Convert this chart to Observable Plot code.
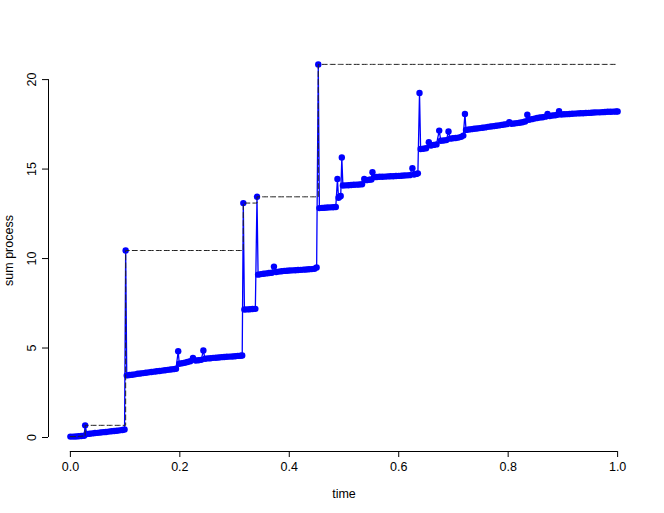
<!DOCTYPE html>
<html><head><meta charset="utf-8">
<script src="https://cdn.jsdelivr.net/npm/d3@7"></script>
<script src="https://cdn.jsdelivr.net/npm/@observablehq/plot@0.6"></script>
<style>html,body{margin:0;padding:0;background:#fff;}</style>
</head><body><div id="chart"></div>
<script>
const time = [
0.000,0.005,0.010,0.015,0.020,0.025,0.027,0.030,0.035,0.040,0.045,0.050,0.055,0.060,0.065,0.070,0.075,0.080,0.085,0.090,0.095,0.099,0.101,
0.103,0.108,0.113,0.118,0.123,0.128,0.133,0.138,0.143,0.148,0.153,0.158,0.163,0.168,0.173,0.178,0.183,0.188,0.193,0.197,
0.199,0.204,0.209,0.214,0.219,0.224,0.229,0.234,0.239,0.243,
0.246,0.251,0.256,0.261,0.266,0.271,0.276,0.281,0.286,0.291,0.296,0.301,0.306,0.311,0.314,0.316,
0.318,0.323,0.328,0.333,0.338,0.341,
0.343,0.348,0.353,0.358,0.363,0.368,0.372,0.376,0.381,0.386,0.391,0.396,0.401,0.406,0.411,0.416,0.421,0.426,0.431,0.436,0.441,0.446,0.450,0.453,
0.455,0.460,0.465,0.470,0.475,0.480,0.485,0.488,0.490,0.492,0.494,0.496,
0.498,0.503,0.508,0.513,0.518,0.523,0.528,0.533,0.537,0.541,0.546,0.550,0.552,
0.555,0.560,0.565,0.570,0.575,0.580,0.585,0.590,0.595,0.600,0.605,0.610,0.615,0.620,0.625,0.628,0.632,0.635,0.638,
0.640,0.645,0.650,0.655,0.659,0.664,0.669,0.674,0.677,0.682,0.687,0.691,0.694,0.699,0.704,0.709,0.714,0.718,0.721,
0.723,0.728,0.733,0.738,0.743,0.748,0.753,0.758,0.763,0.768,0.773,0.778,0.783,0.788,0.793,0.798,0.802,
0.806,0.811,0.816,0.821,0.826,0.831,0.835,0.838,0.843,0.848,0.853,0.858,0.863,0.868,0.872,
0.876,0.881,0.886,0.890,0.893,0.897,0.902,0.907,0.912,0.917,0.922,0.927,0.932,0.937,0.942,0.947,0.952,0.957,0.962,0.967,0.972,0.977,0.982,0.987,0.992,0.997,1.000
];
const sumProcess = [
0.05,0.05,0.06,0.07,0.08,0.10,0.68,0.20,0.21,0.23,0.25,0.26,0.28,0.30,0.31,0.33,0.35,0.36,0.38,0.40,0.42,0.45,10.45,
3.47,3.49,3.51,3.53,3.56,3.58,3.60,3.62,3.64,3.66,3.68,3.70,3.72,3.74,3.76,3.78,3.80,3.82,3.84,4.82,
4.12,4.15,4.18,4.22,4.26,4.45,4.30,4.32,4.34,4.86,
4.40,4.42,4.43,4.45,4.46,4.47,4.49,4.50,4.51,4.52,4.53,4.54,4.56,4.57,4.58,13.10,
7.15,7.16,7.17,7.18,7.19,13.45,
9.10,9.13,9.15,9.17,9.19,9.21,9.55,9.25,9.27,9.29,9.31,9.32,9.33,9.34,9.35,9.36,9.37,9.38,9.39,9.40,9.41,9.43,9.50,20.85,
12.82,12.83,12.84,12.85,12.86,12.87,12.88,14.45,13.40,13.45,13.50,15.65,
14.08,14.09,14.10,14.11,14.12,14.13,14.14,14.15,14.45,14.38,14.40,14.42,14.82,
14.55,14.56,14.57,14.57,14.58,14.59,14.60,14.60,14.61,14.62,14.63,14.64,14.65,14.66,15.05,14.70,14.73,14.76,19.25,
16.12,16.14,16.16,16.50,16.32,16.35,16.38,17.15,16.58,16.60,16.62,17.10,16.70,16.72,16.74,16.76,16.80,16.87,18.08,
17.19,17.21,17.23,17.25,17.27,17.29,17.31,17.33,17.36,17.38,17.40,17.42,17.44,17.47,17.49,17.51,17.62,
17.53,17.55,17.57,17.59,17.62,17.66,18.04,17.76,17.79,17.82,17.85,17.88,17.90,17.93,18.08,
17.96,17.99,18.01,18.03,18.23,18.05,18.06,18.07,18.08,18.09,18.10,18.11,18.12,18.12,18.13,18.14,18.15,18.16,18.17,18.17,18.18,18.19,18.20,18.20,18.21,18.22,18.22
];
const xTicks = [0, 0.2, 0.4, 0.6, 0.8, 1.0];
const yTicks = [0, 5, 10, 15, 20];
const xLabel = "time";
const yLabel = "sum process";

const data = time.map((t, i) => ({t, v: sumProcess[i]}));
let m = -Infinity;
const runMax = data.map(d => ({t: d.t, v: (m = Math.max(m, d.v))}));
const [x0, x1] = d3.extent(time), [y0, y1] = d3.extent(sumProcess);
const px = (x1 - x0) * 0.04, py = (y1 - y0) * 0.04;

const chart = Plot.plot({
  width: 664, height: 513,
  marginLeft: 48, marginRight: 25, marginTop: 49, marginBottom: 62,
  style: {fontFamily: "'Liberation Sans', Arial, sans-serif", fontSize: "12px", background: "#fff", color: "#000", overflow: "visible"},
  x: {domain: [x0 - px, x1 + px]},
  y: {domain: [y0 - py, y1 + py]},
  marks: [
    Plot.ruleY([y0 - py], {x1: xTicks[0], x2: xTicks[xTicks.length - 1], stroke: "#000", strokeWidth: 1}),
    Plot.ruleX([x0 - px], {y1: yTicks[0], y2: yTicks[yTicks.length - 1], stroke: "#000", strokeWidth: 1}),
    Plot.axisX(xTicks, {tickSize: 6, tickPadding: 5, tickFormat: d3.format(".1f"), label: xLabel, labelAnchor: "center", labelArrow: false, labelOffset: 46, fontSize: 12.5}),
    Plot.axisY(yTicks, {tickSize: 6, tickPadding: 7, tickRotate: -90, label: yLabel, labelAnchor: "center", labelArrow: false, labelOffset: 44, fontSize: 12.5}),
    Plot.line(data, {x: "t", y: "v", stroke: "#0000ff", strokeWidth: 1.3}),
    Plot.dot(data, {x: "t", y: "v", r: 3.2, fill: "#0000ff", stroke: "none"}),
    Plot.line(runMax, {x: "t", y: "v", curve: "step-after", stroke: "#222", strokeWidth: 1, strokeDasharray: "5,3"})
  ]
});
document.getElementById("chart").appendChild(chart);
</script>
</body></html>
